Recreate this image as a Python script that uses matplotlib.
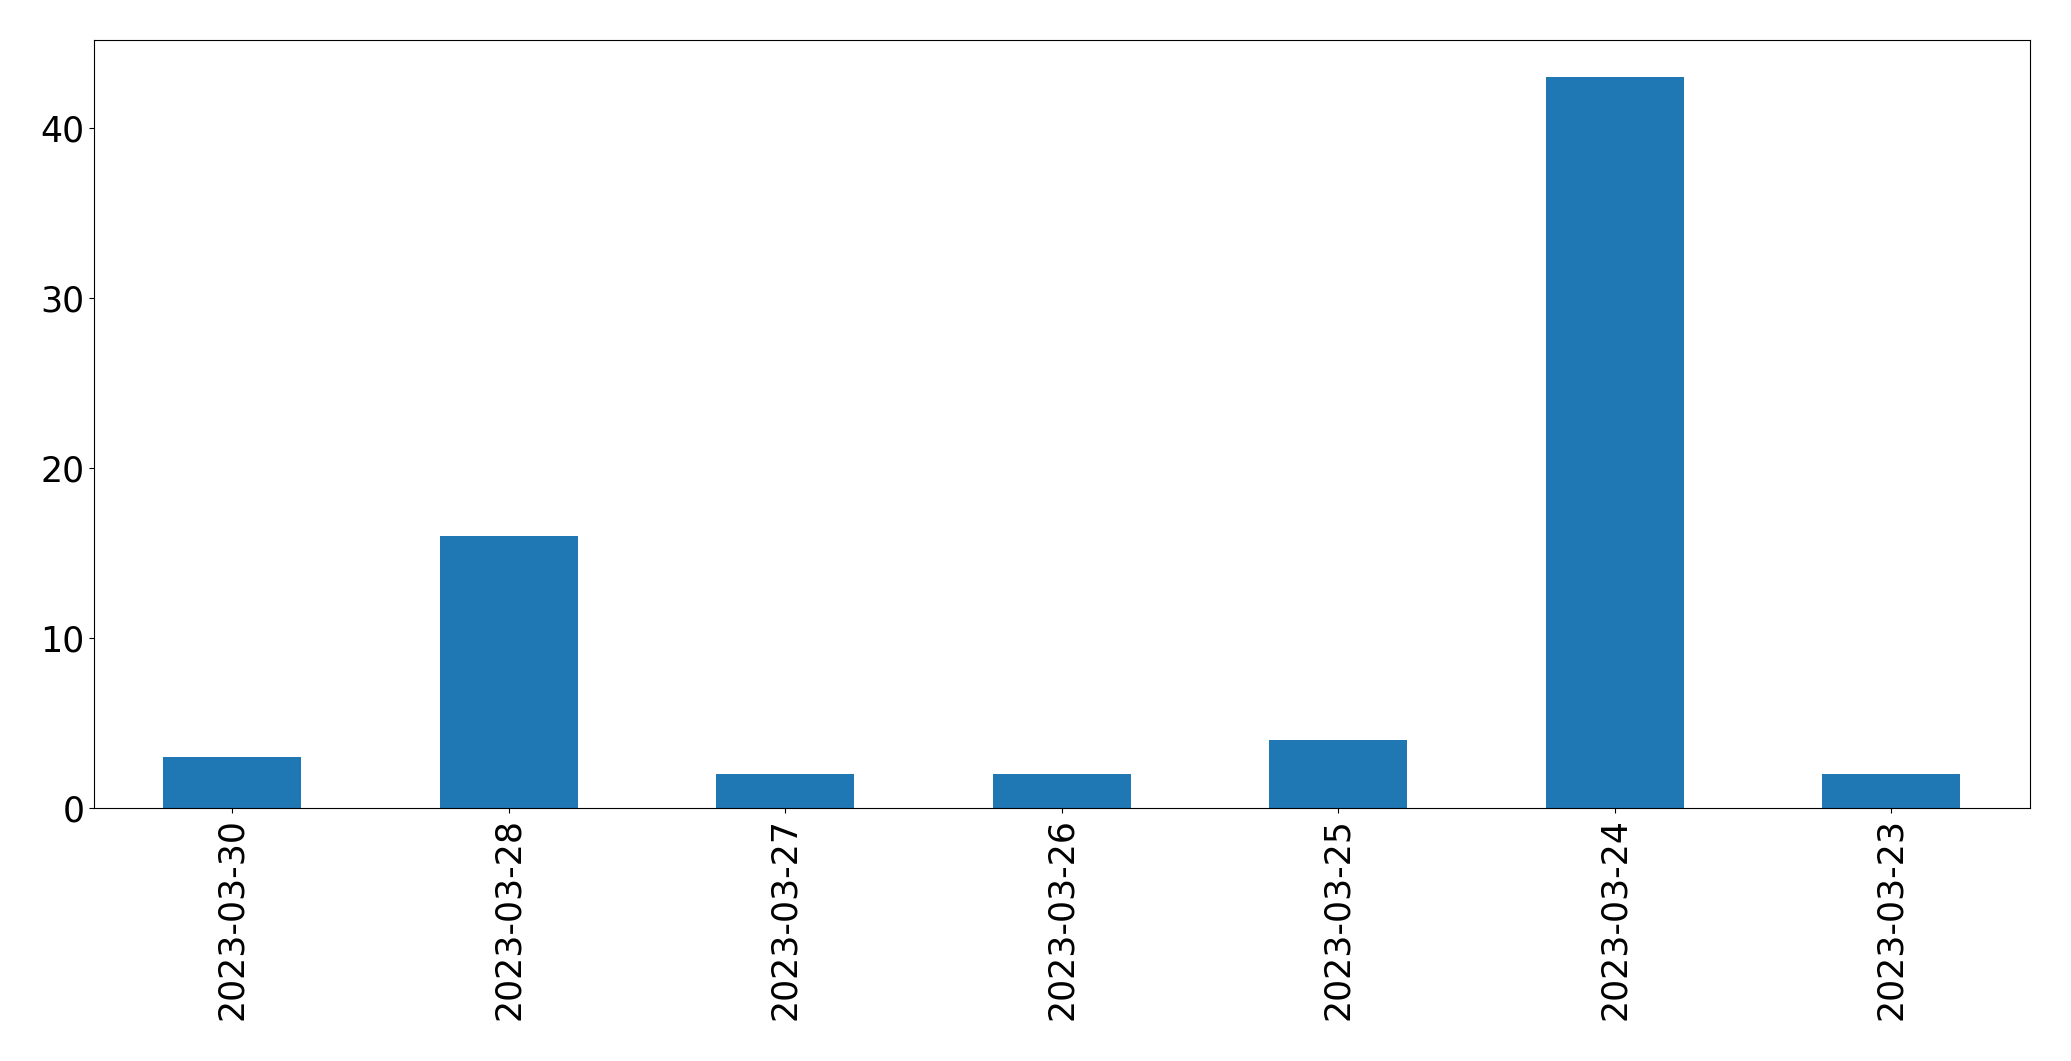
import matplotlib
matplotlib.use("Agg")
import matplotlib.pyplot as plt
import pandas as pd

dates = ["2023-03-30", "2023-03-28", "2023-03-27", "2023-03-26",
         "2023-03-25", "2023-03-24", "2023-03-23"]
counts = [3, 16, 2, 2, 4, 43, 2]

s = pd.Series(counts, index=dates)

fig = plt.figure(figsize=(20.71, 10.61), dpi=100)
ax = fig.add_subplot(111)
s.plot(kind="bar", ax=ax, color="#1f77b4")
ax.tick_params(axis="both", labelsize=25)
fig.subplots_adjust(left=0.0454, right=0.980, top=0.962, bottom=0.238)

fig.savefig("out.png", dpi=100)
